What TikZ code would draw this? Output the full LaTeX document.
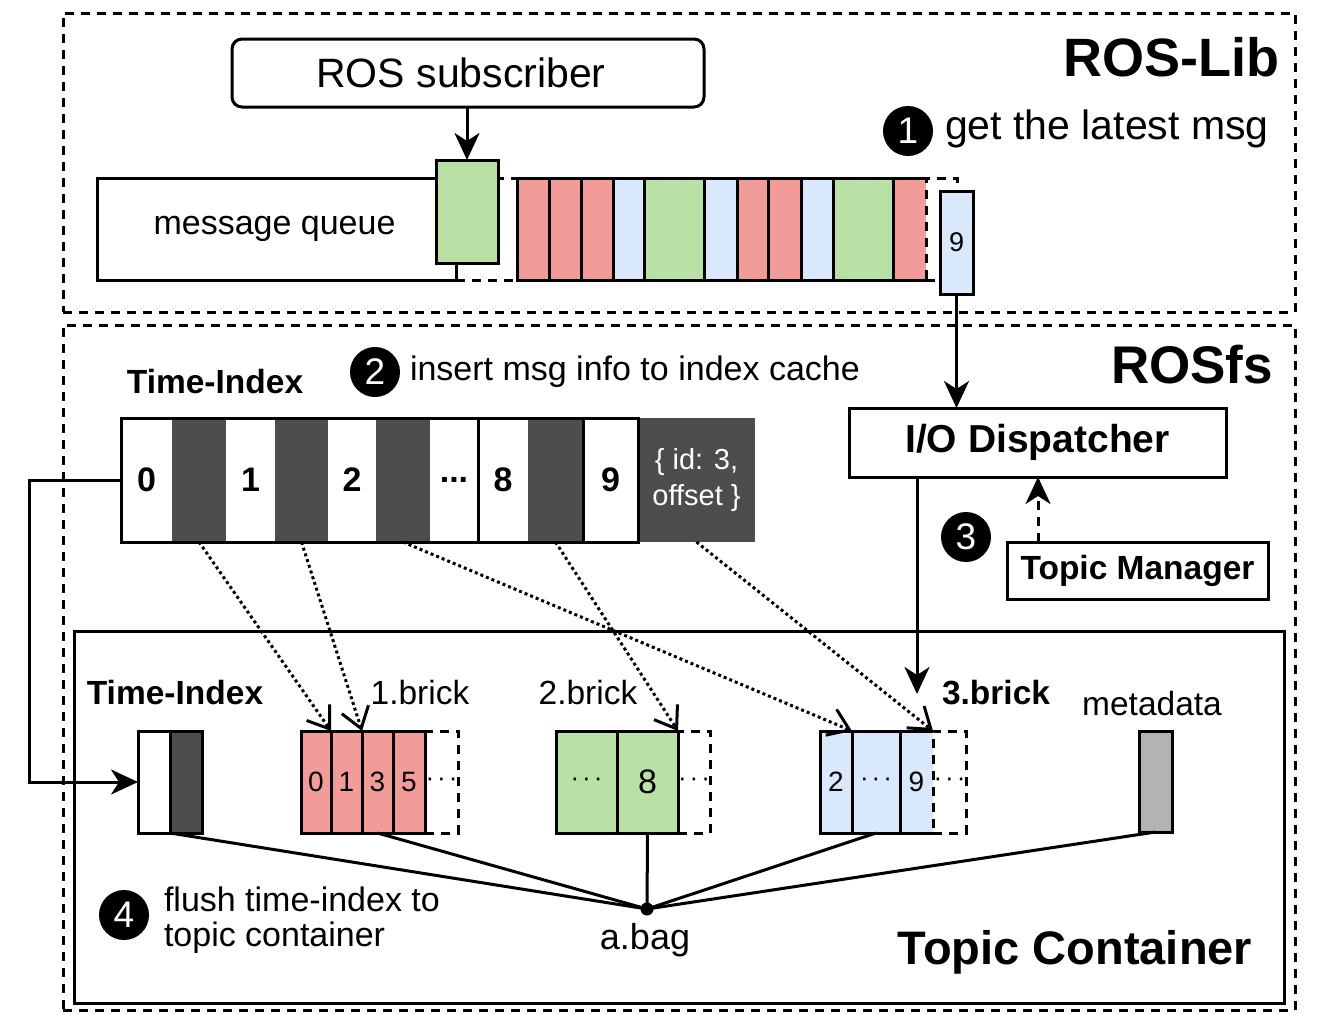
\documentclass[tikz,border=0pt]{standalone}
\usepackage{fontspec}
\setmainfont{Liberation Sans}
\usetikzlibrary{arrows.meta}
\newcommand\fsz[1]{\fontsize{#1}{#1}\selectfont}
\newcommand\tdots{·\kern3pt·\kern3pt·}
\definecolor{cred}{HTML}{F19C99}
\definecolor{cgreen}{HTML}{B9E0A5}
\definecolor{cblue}{HTML}{DAE8FC}
\definecolor{cdark}{HTML}{4D4D4D}
\definecolor{cgray}{HTML}{B3B3B3}
\tikzset{
  lw/.style={line width=3pt},
  cellfill/.style={inner sep=0pt, outer sep=0pt, anchor=north west},
  box/.style={cellfill, draw, line width=3pt},
  dbox/.style={box, dash pattern=on 9pt off 7pt},
  lbl/.style={inner sep=0pt, outer sep=0pt},
  numc/.style={circle, fill=black, text=white, minimum size=50pt, inner sep=0pt, font=\fsz{37}},
  arr/.style={line width=3pt, -{Stealth[length=27pt,width=25pt,inset=8pt]}},
  barb/.style={line width=3pt, dash pattern=on 3pt off 3pt, -{Straight Barb[length=20pt,width=28pt,line width=3pt]}},
}
\begin{document}
\begin{tikzpicture}[x=1pt,y=-1pt]
\useasboundingbox (0,0) rectangle (1329,1020);
\fill[white] (0,0) rectangle (1329,1020);

% frames
\node[dbox, minimum width=1232pt, minimum height=299pt] (roslib) at (63,13) {};
\node[dbox, minimum width=1232pt, minimum height=685pt] (rosfs) at (63,325) {};
\node[box, minimum width=1210pt, minimum height=372pt] (tc) at (74,631) {};

\node[lbl, anchor=east, font=\bfseries\fsz{54}] (roslibl) at (1279,57) {ROS-Lib};
\node[lbl, anchor=east, font=\bfseries\fsz{53}] (rosfsl) at (1273,365) {ROSfs};
\node[lbl, font=\bfseries\fsz{47}] (tcl) at (1075,952) {Topic Container};

% ROS subscriber
\node[box, rounded corners=10pt, minimum width=472pt, minimum height=68pt, font=\fsz{41}] (sub) at (232,39) {\hspace*{-14pt}ROS subscriber};

% message queue
\node[box, minimum width=359pt, minimum height=102pt, font=\fsz{34}] (mq) at (97,178) {\hspace*{-4pt}\raisebox{3pt}{message queue}};
\node[dbox, minimum width=61pt, minimum height=102pt] (slot1) at (456,178) {};
\node[box, fill=cgreen, minimum width=62pt, minimum height=103pt] (newmsg) at (436,160) {};
\foreach \a/\b/\c [count=\i] in {517/549/cred,549/581/cred,581/613/cred,613/644/cblue,644/704/cgreen,704/737/cblue,737/768/cred,768/801/cred,801/833/cblue,833/893/cgreen}{
  \pgfmathsetmacro\w{\b-\a}
  \node[box, fill=\c, minimum width=\w pt, minimum height=102pt] (q\i) at (\a,178) {};
}
\node[cellfill, fill=cred, minimum width=33pt, minimum height=102pt] (q11) at (893,178) {};
\draw[lw] (q11.north east) -- (q11.north west) -- (q11.south west) -- (q11.south east);
\node[dbox, minimum width=31pt, minimum height=102pt] (slot2) at (926,178) {};
\node[box, fill=cblue, minimum width=33pt, minimum height=103pt, font=\fsz{27}] (q9) at (940,191) {9};

\draw[arr] (newmsg.north |- sub.south) -- (newmsg.north);

\node[numc] (c1) at (908,131) {1};
\node[lbl, anchor=west, font=\fsz{41}] (c1t) at (945,129) {get the latest msg};

% ROSfs part
\node[lbl, font=\bfseries\fsz{33.5}] (til) at (215,382) {Time-Index};
\node[numc] (c2) at (375,372) {2};
\node[lbl, anchor=west, font=\fsz{34}] (c2t) at (410,372) {insert msg info to index cache};

\foreach \a/\b/\c/\t [count=\i] in {121/172/white/0,172/226/cdark/{},226/275/white/1,275/328/cdark/{},328/376/white/2,376/430/cdark/{},430/478/white/{...},478/528/white/8,528/583/cdark/{},583/638/white/9}{
  \pgfmathsetmacro\w{\b-\a}
  \node[cellfill, fill=\c, minimum width=\w pt, minimum height=124pt, font=\bfseries\fsz{34}] (t\i) at (\a,418) {\t};
}
\node[cellfill, fill=cdark, minimum width=117pt, minimum height=124pt, text=white, align=center, font=\fontsize{29}{36}\selectfont] (tinfo) at (638,418) {\{ id: 3,\\offset \}};
\draw[lw] (t1.north west) rectangle (t10.south east);
\draw[lw] (t8.north west) -- (t8.south west);
\draw[lw] (t10.north west) -- (t10.south west);

% I/O dispatcher and topic manager
\node[box, minimum width=377pt, minimum height=69pt, font=\bfseries\fsz{39}] (io) at (849,408) {I/O Dispatcher};
\node[box, minimum width=261pt, minimum height=57pt, font=\bfseries\fsz{33.5}] (tm) at (1007,542) {Topic Manager};
\node[numc] (c3) at (966,537) {3};
\draw[arr] (q9.south) -- (q9.south |- io.north);
\draw[arr, dash pattern=on 9pt off 7pt] ([xshift=31pt]tm.north west) -- ([xshift=31pt]tm.north west |- io.south);

% topic container contents
\node[lbl, font=\bfseries\fsz{33.5}] (ctil) at (175,693) {Time-Index};
\node[lbl, font=\fsz{33.5}] (b1l) at (420,693) {1.brick};
\node[lbl, font=\fsz{33.5}] (b2l) at (588,693) {2.brick};
\node[lbl, font=\bfseries\fsz{33.5}] (b3l) at (996,693) {3.brick};
\node[lbl, font=\fsz{33.5}] (metal) at (1152,704) {metadata};

\node[box, fill=white, minimum width=32pt, minimum height=102pt] (ct1) at (138,731) {};
\node[box, fill=cdark, minimum width=32pt, minimum height=102pt] (ct2) at (170,731) {};

\foreach \a/\b/\t [count=\i] in {301/331/0,331/362/1,362/393/3,393/425/5}{
  \pgfmathsetmacro\w{\b-\a}
  \node[box, fill=cred, minimum width=\w pt, minimum height=102pt, font=\fsz{28}] (b1c\i) at (\a,731) {\t};
}
\node[dbox, minimum width=33pt, minimum height=102pt, font=\fsz{26}] (b1s) at (425,731) {\tdots};

\node[box, fill=cgreen, minimum width=61pt, minimum height=102pt, font=\fsz{26}] (b2c1) at (556,731) {\tdots};
\node[box, fill=cgreen, minimum width=61pt, minimum height=102pt, font=\fsz{34}] (b2c2) at (617,731) {8};
\node[dbox, minimum width=32pt, minimum height=102pt, font=\fsz{26}] (b2s) at (678,731) {\tdots};

\node[box, fill=cblue, minimum width=32pt, minimum height=102pt, font=\fsz{28}] (b3c1) at (820,731) {2};
\node[box, fill=cblue, minimum width=48pt, minimum height=102pt, font=\fsz{26}] (b3c2) at (852,731) {\tdots};
\node[cellfill, fill=cblue, minimum width=33pt, minimum height=102pt, font=\fsz{28}] (b3c3) at (900,731) {9};
\draw[lw] (b3c3.north east) -- (b3c3.north west) -- (b3c3.south west) -- (b3c3.south east);
\node[dbox, minimum width=33pt, minimum height=102pt, font=\fsz{26}] (b3s) at (933,731) {\tdots};

\node[box, fill=cgray, minimum width=33pt, minimum height=101pt] (meta) at (1139,731) {};

% a.bag
\node[circle, fill=black, minimum size=13pt, inner sep=0pt] (bag) at (647,909) {};
\node[lbl, font=\fsz{36}] (bagl) at (645,940) {a.bag};
\draw[lw] (ct2.south west) -- (bag.center);
\draw[lw] (b1c3.south) -- (bag.center);
\draw[lw] (b2c2.south) -- (bag.center);
\draw[lw] (b3c2.south) -- (bag.center);
\draw[lw] (meta.south) -- (bag.center);

\node[numc] (c4) at (124,915) {4};
\node[lbl, anchor=west, align=left, font=\fontsize{34}{35}\selectfont] (c4t) at (164,920) {flush time-index to\\topic container};

% connectors
\draw[arr] (t1.west) -- ++(-92,0) |- (ct1.west);
\coordinate (b3in) at (917,694);
\draw[arr] (io.south west -| b3in) -- (b3in);
\draw[barb] (t2.south) -- (b1c1.north east);
\draw[barb] (t4.south) -- (b1c2.north east);
\draw[barb] (t6.south) -- (b3c1.north east);
\draw[barb] (t9.south) -- (b2c2.north east);
\draw[barb] (tinfo.south) -- (b3c3.north east);
\end{tikzpicture}
\end{document}
